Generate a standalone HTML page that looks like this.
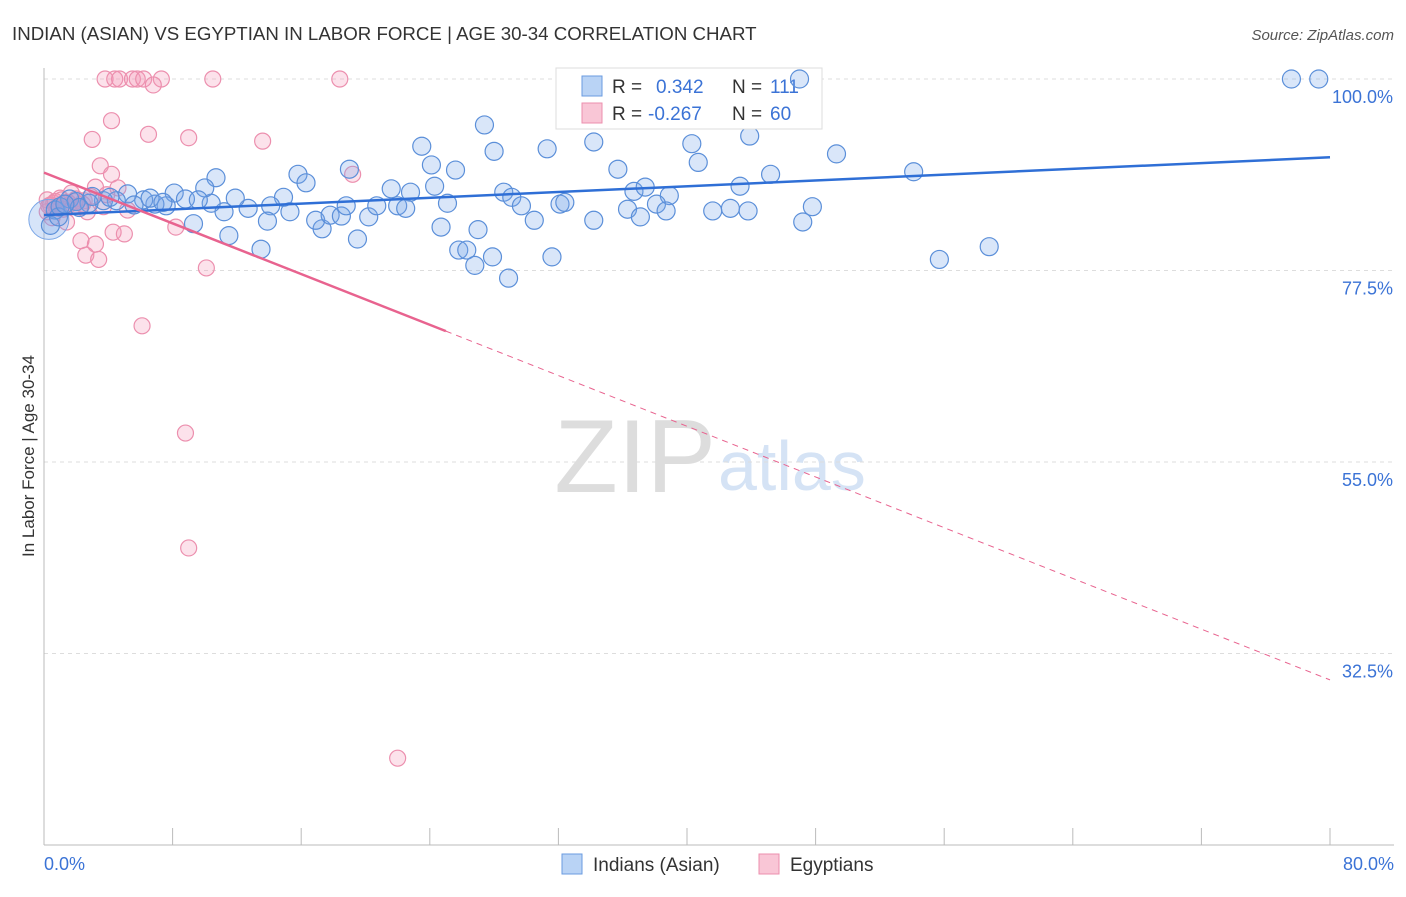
<!DOCTYPE html>
<html><head><meta charset="utf-8"><style>
body{margin:0;background:#fff;font-family:"Liberation Sans",sans-serif;}
svg text{font-family:"Liberation Sans",sans-serif;}
</style></head><body>
<svg id="chart" width="1406" height="892">
<text x="12" y="40" font-size="18.7" fill="#333">INDIAN (ASIAN) VS EGYPTIAN IN LABOR FORCE | AGE 30-34 CORRELATION CHART</text>
<text x="1394" y="40" font-size="15" fill="#555" text-anchor="end" font-style="italic">Source: ZipAtlas.com</text>
<text x="34" y="456" font-size="17" fill="#333" text-anchor="middle" transform="rotate(-90 34 456)">In Labor Force | Age 30-34</text>
<text x="716" y="492" font-size="104" fill="#ddd" text-anchor="end" font-family="Liberation Serif">ZIP</text>
<text x="718" y="490" font-size="70" fill="#d5e3f5">atlas</text>
<g id="grid"></g><g id="axes"></g><g id="pink"></g><g id="blue"></g><g id="lines"></g>
<g>
<rect x="556" y="68" width="266" height="61" fill="#fff" stroke="#ddd"/>
<rect x="582" y="76" width="20" height="20" fill="#b9d3f5" stroke="#6a9be0"/>
<text x="612" y="93" font-size="19" fill="#333">R = </text><text x="656" y="93" font-size="19" fill="#3b73d6">0.342</text>
<text x="732" y="93" font-size="19" fill="#333">N = </text><text x="770" y="93" font-size="19" fill="#3b73d6">111</text>
<rect x="582" y="103" width="20" height="20" fill="#f9c6d6" stroke="#ec8fae"/>
<text x="612" y="120" font-size="19" fill="#333">R = </text><text x="648" y="120" font-size="19" fill="#3b73d6">-0.267</text>
<text x="732" y="120" font-size="19" fill="#333">N = </text><text x="770" y="120" font-size="19" fill="#3b73d6">60</text>
</g>
<g id="top"></g>
<g>
<rect x="562" y="854" width="20" height="20" fill="#b9d3f5" stroke="#6a9be0"/>
<text x="593" y="871" font-size="19" fill="#333">Indians (Asian)</text>
<rect x="759" y="854" width="20" height="20" fill="#f9c6d6" stroke="#ec8fae"/>
<text x="790" y="871" font-size="19" fill="#333">Egyptians</text>
</g>
</svg>
<script>
const yTicks=[100,77.5,55,32.5];
const yTickLabels=["100.0%","77.5%","55.0%","32.5%"];
const xTicks=[0,8,16,24,32,40,48,56,64,72,80];
const blueX=[47.0,77.6,79.3,27.4,23.5,28.0,31.3,34.2,40.3,43.9,49.3,24.1,25.6,35.7,40.7,45.2,54.1,19.0,15.8,10.7,16.3,21.6,24.3,22.8,28.6,29.1,25.1,29.7,32.1,32.4,36.7,37.4,38.9,38.1,36.3,38.7,37.1,41.6,42.7,43.8,43.3,47.8,47.2,34.2,30.5,24.7,27.0,25.8,26.3,27.9,26.8,28.9,31.6,19.5,17.3,16.9,17.8,18.5,20.2,20.7,18.8,22.0,22.5,14.9,15.3,14.1,12.7,11.9,11.2,13.9,11.5,13.5,10.4,10.0,9.3,8.1,8.8,7.6,6.9,6.2,5.2,4.5,3.7,2.8,1.6,0.7,0.4,0.9,55.7,58.8,1.0,2.0,3.0,2.2,1.3,4.1,5.6,6.6,7.4,9.6];
const blueY=[100,100,100,94.6,92.1,91.5,91.8,92.6,92.4,93.3,91.2,89.9,89.3,89.4,90.2,88.8,89.1,89.4,88.8,88.4,87.8,87.1,87.4,86.7,86.7,86.1,85.4,85.1,85.3,85.5,86.8,87.3,86.3,85.3,84.7,84.5,83.8,84.5,84.8,84.5,87.4,85.0,83.2,83.4,83.4,82.6,82.3,79.9,79.9,79.1,78.1,76.6,79.1,81.2,82.4,83.4,84.0,83.9,83.8,85.1,85.1,85.1,84.8,86.1,84.4,85.1,84.8,86.0,84.4,83.3,81.6,80.0,85.4,87.2,83.0,86.6,85.9,85.1,85.3,85.8,86.5,85.7,85.7,85.4,85.9,84.6,82.8,83.8,78.8,80.3,85.0,85.6,86.2,84.9,85.3,86.1,85.2,86.0,85.5,85.8];
const pinkX=[3.8,4.4,4.7,5.5,5.8,6.2,7.3,10.5,18.4,6.8,4.2,6.5,9.0,13.6,3.0,3.5,4.2,19.2,3.2,4.6,1.7,1.0,0.2,0.9,1.6,2.2,2.5,2.7,3.7,5.2,0.2,1.4,8.2,4.3,5.0,2.3,3.2,2.6,3.4,10.1,6.1,8.8,9.0,22.0,0.6,1.1,0.5,1.3,1.9,0.4,2.9,0.8,1.5,2.0,3.9,0.3,1.2,2.4,0.7,1.8];
const pinkY=[100,100,100,100,100,100,100,100,100,99.3,95.1,93.5,93.1,92.7,92.9,89.8,88.8,88.8,87.3,87.2,86.6,86.0,85.8,84.8,85.3,84.8,85.7,84.4,85.0,84.6,84.4,83.2,82.6,82.0,81.8,81.0,80.6,79.3,78.8,77.8,71.0,58.4,44.9,20.2,85.4,85.8,83.7,85.0,85.6,85.2,86.2,84.9,85.5,85.9,86.4,85.1,84.7,85.3,85.6,85.0];
const blueLine=[84.0,90.8];
const pinkLine=[89.0,29.4];
const pinkSolidEnd=25;
const NS="http://www.w3.org/2000/svg";
const xS=v=>44+v/80*1286;
const yS=v=>79+(100-v)*191.5/22.5;
function mk(tag,attrs,parent){const e=document.createElementNS(NS,tag);for(const k in attrs)e.setAttribute(k,attrs[k]);document.getElementById(parent).appendChild(e);return e;}
yTicks.forEach((t,i)=>{
 const l=mk('line',{x1:44,x2:1394,y1:yS(t),y2:yS(t),stroke:'#ddd','stroke-dasharray':'4,4'},'grid');
 
 
 const tx=mk('text',{x:1393,y:yS(t)+24,'font-size':18,fill:'#3b73d6','text-anchor':'end'},'grid');
 tx.textContent=yTickLabels[i];
 
 
});
const ax=mk('line',{x1:44,x2:1394,y1:845,y2:845,stroke:'#bbb'},'axes');


const ay=mk('line',{x1:44,x2:44,y1:68,y2:845,stroke:'#bbb'},'axes');


xTicks.forEach(t=>{
 const l=mk('line',{x1:xS(t),x2:xS(t),y1:828,y2:845,stroke:'#bbb'},'axes');
 
 
});
const xl0=mk('text',{x:44,y:870,'font-size':18,fill:'#3b73d6'},'axes');xl0.textContent='0.0%';


const xl1=mk('text',{x:1394,y:870,'font-size':18,fill:'#3b73d6','text-anchor':'end'},'axes');xl1.textContent='80.0%';


pinkX.forEach((x,i)=>{
 const c=mk('circle',{cx:xS(x),cy:yS(pinkY[i]),r:8,fill:'rgba(244,150,182,0.28)',stroke:'#ec8fae','stroke-width':1.2},'pink');
 
 
});
const big=mk('circle',{cx:xS(0.3),cy:yS(83.5),r:20,fill:'rgba(120,165,235,0.3)',stroke:'#7aa6e6'},'blue');


blueX.forEach((x,i)=>{
 const g=(blueY[i]>=98 && x>40 && x<50)?'top':'blue';
 const c=mk('circle',{cx:xS(x),cy:yS(blueY[i]),r:9,fill:'rgba(120,165,235,0.28)',stroke:'#5b8fd9','stroke-width':1.2},g);
 
 
});
const bl=mk('line',{x1:xS(0),y1:yS(blueLine[0]),x2:xS(80),y2:yS(blueLine[1]),stroke:'#2f6fd6','stroke-width':2.5},'lines');


const pAt=v=>pinkLine[0]+(pinkLine[1]-pinkLine[0])*v/80;
const pl=mk('line',{x1:xS(0),y1:yS(pAt(0)),x2:xS(pinkSolidEnd),y2:yS(pAt(pinkSolidEnd)),stroke:'#e8638f','stroke-width':2.5},'lines');


const pd=mk('line',{x1:xS(pinkSolidEnd),y1:yS(pAt(pinkSolidEnd)),x2:xS(80),y2:yS(pAt(80)),stroke:'#e8638f','stroke-width':1,'stroke-dasharray':'6,5'},'lines');


</script>
</body></html>
